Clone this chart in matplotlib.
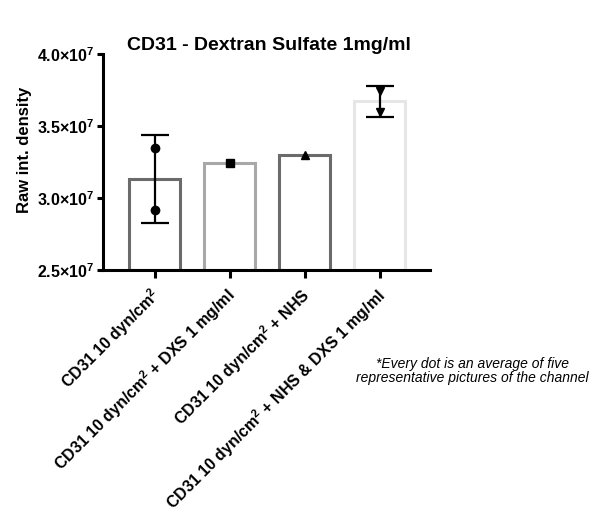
import matplotlib

matplotlib.use("Agg")

import matplotlib.pyplot as plt
import matplotlib.transforms as mtransforms
import numpy as np

plt.rcParams["font.family"] = ["Liberation Sans", "DejaVu Sans"]
plt.rcParams["mathtext.fontset"] = "custom"
plt.rcParams["mathtext.rm"] = "Liberation Sans:bold"
plt.rcParams["mathtext.bf"] = "Liberation Sans:bold"

# data
groups = [
    "CD31 10 dyn/cm$^2$",
    "CD31 10 dyn/cm$^2$ + DXS 1 mg/ml",
    "CD31 10 dyn/cm$^2$ + NHS",
    "CD31 10 dyn/cm$^2$ + NHS & DXS 1 mg/ml",
]
points = [
    [3.345e7, 2.915e7],
    [3.24e7],
    [3.30e7],
    [3.745e7, 3.595e7],
]
markers = ["o", "s", "^", "v"]
edge_colors = ["#6b6b6b", "#a8a8a8", "#6b6b6b", "#e6e6e6"]
y_ticks = [2.5e7, 3.0e7, 3.5e7, 4.0e7]
y_tick_labels = [r"2.5$\times$10$^7$", r"3.0$\times$10$^7$",
                 r"3.5$\times$10$^7$", r"4.0$\times$10$^7$"]

means = [np.mean(p) for p in points]
sds = [np.std(p, ddof=1) if len(p) > 1 else 0 for p in points]
base = y_ticks[0]

fig = plt.figure(figsize=(5.91, 5.09), dpi=100)
ax = fig.add_axes([0.174, 0.4695, 0.554, 0.4245])

x = np.arange(len(groups))
ax.bar(x, np.array(means) - base, bottom=base, width=0.68, color="white",
       edgecolor=edge_colors, linewidth=2.2, zorder=2)

for xi, pts, mk, sd, m in zip(x, points, markers, sds, means):
    if sd > 0:
        ax.errorbar(xi, m, yerr=sd, fmt="none", ecolor="black", elinewidth=1.6,
                    capsize=10, capthick=1.6, zorder=3)
    ax.plot([xi] * len(pts), pts, linestyle="none", marker=mk, color="black",
            markersize=6, zorder=4)

ax.set_xlim(-0.69, 3.67)
ax.set_ylim(2.5e7, 4.0e7)
ax.set_yticks(y_ticks)
ax.set_yticklabels(y_tick_labels, fontsize=11.5, fontweight="bold")
ax.set_xticks(x)
ax.set_xticklabels([])

# rotated group labels, nudged a little left and down from each tick
shift = mtransforms.ScaledTranslation(-0.05, -0.15, fig.dpi_scale_trans)
for xi, name in zip(x, groups):
    ax.text(xi, 0, name, transform=ax.get_xaxis_transform() + shift,
            rotation=45, ha="right", va="top", rotation_mode="anchor",
            fontsize=11.5, fontweight="bold")

ax.set_ylabel("Raw int. density", fontsize=12, fontweight="bold")
ax.yaxis.set_label_coords(-0.215, 0.556)

for side in ["top", "right"]:
    ax.spines[side].set_visible(False)
for side in ["left", "bottom"]:
    ax.spines[side].set_linewidth(2.2)
ax.tick_params(axis="y", length=4, width=2.2, pad=2)
ax.tick_params(axis="x", length=6, width=2.2, pad=3)

fig.text(0.455, 1 - 45 / 509, "CD31 - Dextran Sulfate 1mg/ml", ha="center",
         va="center", fontsize=14, fontweight="bold")
fig.text(0.80, 1 - 371 / 509,
         "*Every dot is an average of five\nrepresentative pictures of the channel",
         ha="center", va="center", fontsize=10, style="italic", linespacing=1.0)

fig.savefig("out.png", dpi=100)
